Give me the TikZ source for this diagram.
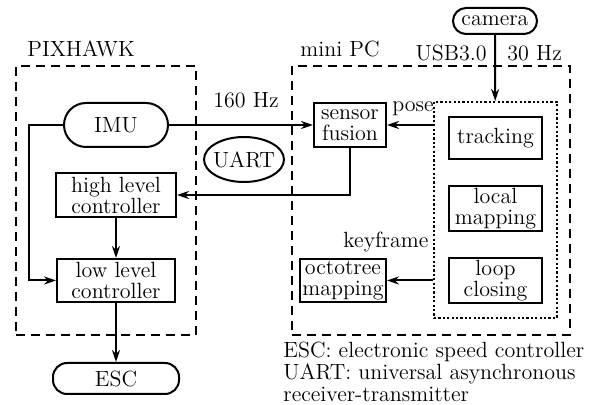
\documentclass[tikz,border=0pt]{standalone}
\usepackage{tikz}
\usetikzlibrary{arrows.meta, positioning, shapes.geometric, fit, calc}

\begin{document}
\begin{tikzpicture}[x=0.5pt, y=-0.5pt,
    font=\fontsize{11}{10.5}\selectfont,
    box/.style={rectangle, draw, line width=1pt, inner sep=1pt,
                align=center},
    pill/.style={rectangle, draw, line width=1pt, rounded corners=#1,
                 inner sep=1pt},
    group/.style={rectangle, draw, line width=1pt,
                  dash pattern=on 4.5pt off 3pt},
    slamgroup/.style={rectangle, draw, line width=1pt,
                      dash pattern=on 1.1pt off 1.1pt, inner sep=7pt},
    tag/.style={inner sep=0pt},
    link/.style={-{Stealth[length=6pt, width=4pt]}, line width=1pt}
  ]
    \useasboundingbox (0,0) rectangle (590,405);

    % Hardware frames
    \node[group, minimum width=90pt, minimum height=134.5pt] (pixhawk)
      at (106,200.5) {};
    \node[group, minimum width=139pt, minimum height=134.5pt] (minipc)
      at (431,200.5) {};
    \node[tag, anchor=base west] (pixname) at (27,57) {PIXHAWK};
    \node[tag, anchor=base west] (pcname)  at (300,57) {mini PC};

    % PIXHAWK side
    \node[pill=11pt, minimum width=52pt, minimum height=22pt] (imu)
      at (116,125) {IMU};
    \node[box, minimum width=60pt, minimum height=22pt] (high)
      at (116,195) {high level\\controller};
    \node[box, minimum width=59pt, minimum height=21.5pt] (low)
      at (116,280.5) {low level\\controller};
    \node[pill=7pt, minimum width=63pt, minimum height=15.5pt] (esc)
      at (116,378.5) {ESC};
    \node[ellipse, draw, line width=1pt, minimum width=40pt,
          minimum height=22.5pt, inner xsep=-4pt, inner ysep=0pt] (uart)
      at (244,159.5) {UART};

    % mini PC side
    \node[pill=6.5pt, minimum width=42pt, minimum height=13pt] (camera)
      at (495,21) {camera};
    \node[box, minimum width=36pt, minimum height=22pt] (fusion)
      at (350,125) {sensor\\fusion};
    \node[box, minimum width=46.5pt, minimum height=21pt] (track)
      at (495.5,138) {tracking};
    \node[box, minimum width=46.5pt, minimum height=21.5pt] (local)
      at (495.5,208.5) {local\\mapping};
    \node[box, minimum width=46.5pt, minimum height=21.5pt] (loop)
      at (495.5,280.5) {loop\\closing};
    \node[box, minimum width=43pt, minimum height=21.5pt] (octo)
      at (343,280.5) {octotree\\mapping};
    \node[slamgroup, fit=(track)(local)(loop)] (slam) {};

    % Link labels
    \node[tag, anchor=base east] (usb)     at (487,61)  {USB3.0};
    \node[tag, anchor=base west] (camrate) at (507,61)  {30 Hz};
    \node[tag, anchor=base west] (imurate) at (213,108) {160 Hz};
    \node[tag, anchor=base west] (posetag) at (392,112) {pose};
    \node[tag, anchor=base west] (kftag)   at (343,248) {keyframe};

    % Legend
    \node[tag, anchor=north west, align=left,
          font=\fontsize{11}{11}\selectfont] (legend) at (283,342)
      {ESC: electronic speed controller\\
       UART: universal asynchronous\\
       receiver-transmitter};

    % Connections
    \draw[link] (imu.east) -- (fusion.west);
    \draw[link] (imu.west) -- ++(-34,0) |- (low.west);
    \draw[link] (fusion.south) |- (high.east);
    \draw[link] (high) -- (low);
    \draw[link] (low) -- (esc);
    \draw[link] (camera) -- (slam);
    \draw[link] (slam.west |- fusion.east) -- (fusion.east);
    \draw[link] (slam.west |- octo.east) -- (octo.east);
  \end{tikzpicture}
\end{document}
